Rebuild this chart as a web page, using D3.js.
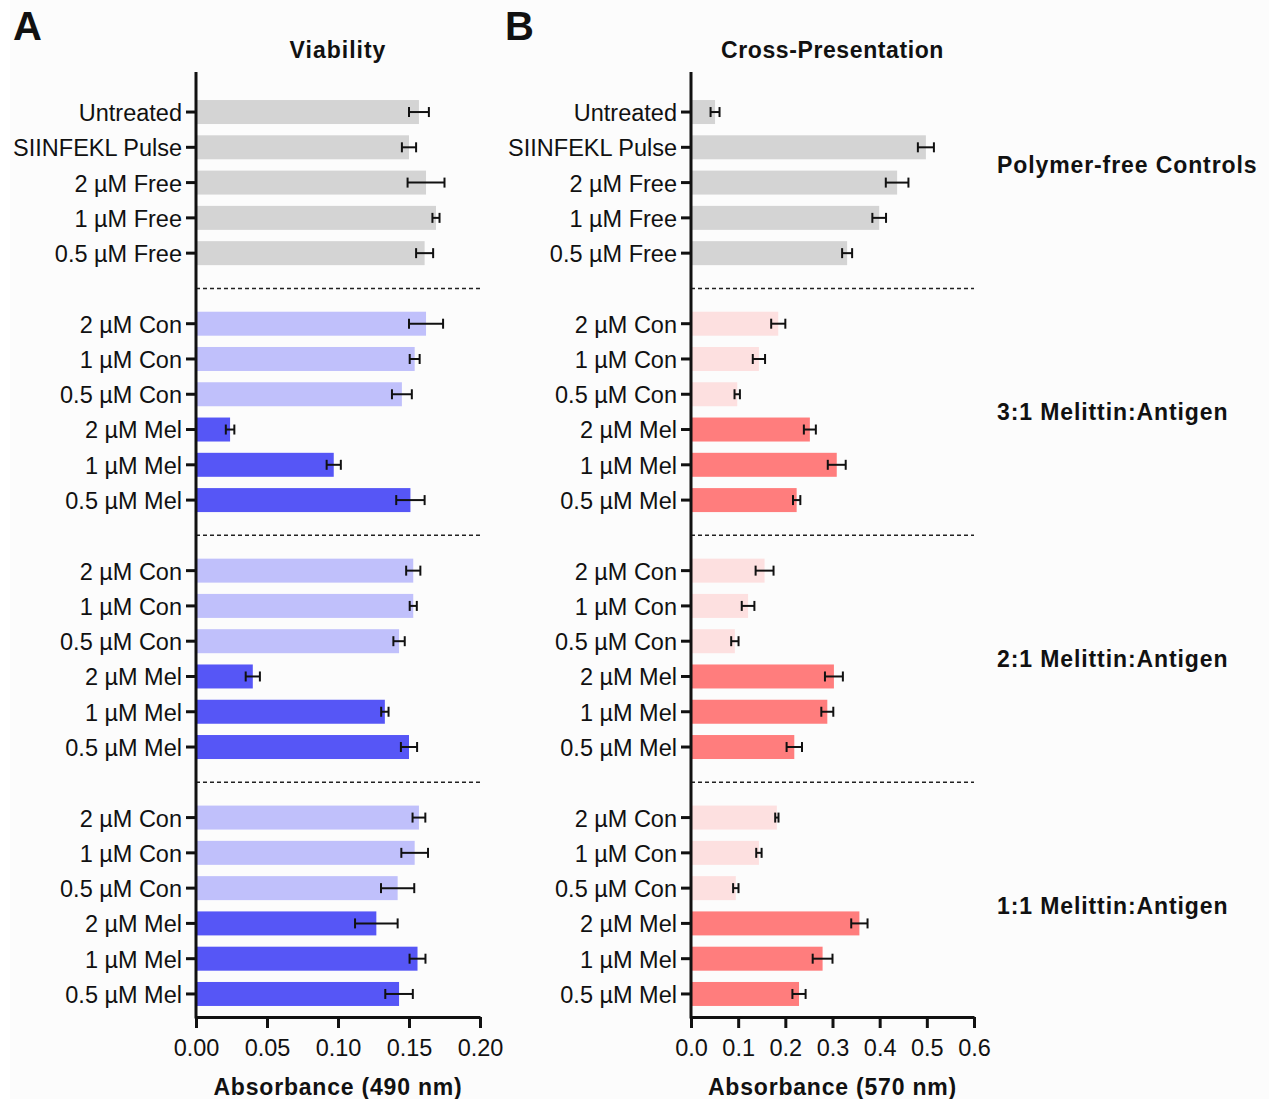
<!DOCTYPE html>
<meta charset="utf-8">
<title>Viability and cross-presentation</title>
<style>
  body { margin: 0; background: #fff; }
  svg { display: block; font-family: Arial, "Liberation Sans", Helvetica, sans-serif; }
  .tick text { font-size: 23.5px; fill: #111; }
  .bold { font-weight: bold; fill: #111; }
</style>
<body>
<script src="https://d3js.org/d3.v7.min.js"></script>
<script>
  // row labels, one block per group
  var controlLabels = ["Untreated", "SIINFEKL Pulse", "2 \u00b5M Free", "1 \u00b5M Free", "0.5 \u00b5M Free"];
  var ratioLabels = ["2 \u00b5M Con", "1 \u00b5M Con", "0.5 \u00b5M Con", "2 \u00b5M Mel", "1 \u00b5M Mel", "0.5 \u00b5M Mel"];
  var groupNames = ["Polymer-free Controls", "3:1 Melittin:Antigen", "2:1 Melittin:Antigen", "1:1 Melittin:Antigen"];

  // panel A - viability (absorbance 490 nm), mean and error
  var viabilityMean = [0.157, 0.150, 0.162, 0.169, 0.161,
                       0.162, 0.154, 0.145, 0.024, 0.097, 0.151,
                       0.153, 0.153, 0.143, 0.040, 0.133, 0.150,
                       0.157, 0.154, 0.142, 0.127, 0.156, 0.143];
  var viabilityErr  = [0.007, 0.005, 0.013, 0.0025, 0.006,
                       0.012, 0.0035, 0.007, 0.003, 0.005, 0.010,
                       0.005, 0.0025, 0.004, 0.005, 0.0026, 0.0057,
                       0.0045, 0.0094, 0.0117, 0.015, 0.0056, 0.0097];

  // panel B - cross-presentation (absorbance 570 nm)
  var crossMean = [0.051, 0.498, 0.437, 0.399, 0.331,
                   0.185, 0.144, 0.098, 0.252, 0.309, 0.224,
                   0.156, 0.121, 0.093, 0.303, 0.289, 0.219,
                   0.182, 0.144, 0.095, 0.357, 0.279, 0.229];
  var crossErr  = [0.0095, 0.017, 0.024, 0.0145, 0.0106,
                   0.015, 0.013, 0.0057, 0.0127, 0.019, 0.0078,
                   0.019, 0.0134, 0.0078, 0.019, 0.0127, 0.0163,
                   0.0035, 0.0057, 0.0057, 0.0173, 0.021, 0.014];

  var viabilityTicks = [0, 0.05, 0.10, 0.15, 0.20];
  var crossTicks = [0, 0.1, 0.2, 0.3, 0.4, 0.5, 0.6];

  // build the slot list: rows plus a dashed separator between groups
  var groups = [controlLabels, ratioLabels, ratioLabels, ratioLabels];
  var slots = [], rows = [];
  groups.forEach(function(labels, g) {
    if (g > 0) slots.push({id: "sep" + g, sep: true});
    labels.forEach(function(l) {
      var r = {id: "r" + rows.length, label: l, group: g, index: rows.length};
      slots.push(r); rows.push(r);
    });
  });

  var width = 1269, height = 1099;
  var svg = d3.select("body").append("svg")
      .attr("width", width)
      .attr("height", height);

  svg.append("rect").attr("x", 10).attr("y", 0)
      .attr("width", width - 10).attr("height", height)
      .attr("fill", "#fcfcfc");

  var y = d3.scaleBand()
      .domain(slots.map(function(d) { return d.id; }))
      .range([94.4, 1011.6])
      .paddingInner(0.32)
      .paddingOuter(0.16);
  var yTop = 72, yBottom = 1017;

  function colour(panel, r) {
    if (r.group === 0) return "#d4d4d4";
    var mel = r.label.indexOf("Mel") >= 0;
    if (panel === "A") return mel ? "#5656f6" : "#c0c0fb";
    return mel ? "#ff7d7d" : "#fde0e0";
  }

  function drawPanel(opt) {
    var x = d3.scaleLinear().domain(opt.domain).range(opt.range);
    var g = svg.append("g");

    // bars
    g.selectAll(".bar")
      .data(rows)
      .enter().append("rect")
      .attr("x", x(0))
      .attr("y", function(d) { return y(d.id); })
      .attr("height", y.bandwidth())
      .attr("width", function(d) { return x(opt.mean[d.index]) - x(0); })
      .attr("fill", function(d) { return colour(opt.panel, d); });

    // error bars
    var eb = g.selectAll(".err")
      .data(rows)
      .enter().append("g")
      .attr("stroke", "#111")
      .attr("stroke-width", 2);
    eb.append("line")
      .attr("x1", function(d) { return x(opt.mean[d.index] - opt.err[d.index]); })
      .attr("x2", function(d) { return x(opt.mean[d.index] + opt.err[d.index]); })
      .attr("y1", function(d) { return y(d.id) + y.bandwidth() / 2; })
      .attr("y2", function(d) { return y(d.id) + y.bandwidth() / 2; });
    [-1, 1].forEach(function(s) {
      eb.append("line")
        .attr("x1", function(d) { return x(opt.mean[d.index] + s * opt.err[d.index]); })
        .attr("x2", function(d) { return x(opt.mean[d.index] + s * opt.err[d.index]); })
        .attr("y1", function(d) { return y(d.id) + y.bandwidth() / 2 - 5; })
        .attr("y2", function(d) { return y(d.id) + y.bandwidth() / 2 + 5; });
    });

    // dashed separators
    g.selectAll(".sep")
      .data(slots.filter(function(d) { return d.sep; }))
      .enter().append("line")
      .attr("x1", x(0)).attr("x2", opt.range[1])
      .attr("y1", function(d) { return y(d.id) + y.bandwidth() / 2; })
      .attr("y2", function(d) { return y(d.id) + y.bandwidth() / 2; })
      .attr("stroke", "#222")
      .attr("stroke-width", 1.5)
      .attr("stroke-dasharray", "4,3");

    // y axis
    var yAxis = g.append("g")
      .attr("transform", "translate(" + x(0) + ",0)")
      .call(d3.axisLeft(y)
        .tickValues(rows.map(function(d) { return d.id; }))
        .tickFormat(function(id) { return rows[+id.slice(1)].label; })
        .tickSize(10)
        .tickPadding(4));
    yAxis.select(".domain").remove();
    yAxis.selectAll(".tick line").attr("stroke", "#111").attr("stroke-width", 3);
    yAxis.selectAll(".tick text").attr("dy", "0.38em");
    g.append("line")
      .attr("x1", x(0)).attr("x2", x(0))
      .attr("y1", yTop).attr("y2", yBottom + 1.5)
      .attr("stroke", "#111").attr("stroke-width", 3);

    // x axis
    var xAxis = g.append("g")
      .attr("transform", "translate(0," + yBottom + ")")
      .call(d3.axisBottom(x)
        .tickValues(opt.ticks)
        .tickFormat(d3.format(opt.fmt))
        .tickSize(11)
        .tickSizeOuter(0)
        .tickPadding(11));
    xAxis.select(".domain").attr("stroke", "#111").attr("stroke-width", 3);
    xAxis.selectAll(".tick line").attr("stroke", "#111").attr("stroke-width", 3);

    // titles
    var mid = (opt.range[0] + opt.range[1]) / 2;
    g.append("text").attr("class", "bold")
      .attr("x", mid).attr("y", 58)
      .attr("text-anchor", "middle")
      .style("font-size", "23px").style("letter-spacing", opt.titleSpacing)
      .text(opt.title);
    g.append("text").attr("class", "bold")
      .attr("x", mid).attr("y", 1095)
      .attr("text-anchor", "middle")
      .style("font-size", "23px").style("letter-spacing", "0.8px")
      .text(opt.xlabel);
    g.append("text").attr("class", "bold")
      .attr("x", opt.letterX).attr("y", 40)
      .style("font-size", "40px")
      .text(opt.panel);
  }

  drawPanel({panel: "A", title: "Viability", xlabel: "Absorbance (490 nm)",
             domain: [0, 0.2], range: [196, 480], ticks: viabilityTicks, fmt: ".2f",
             mean: viabilityMean, err: viabilityErr, letterX: 13, titleSpacing: "1px"});
  drawPanel({panel: "B", title: "Cross-Presentation", xlabel: "Absorbance (570 nm)",
             domain: [0, 0.6], range: [691, 974], ticks: crossTicks, fmt: ".1f",
             mean: crossMean, err: crossErr, letterX: 505, titleSpacing: "0.6px"});

  // group labels on the right
  svg.selectAll(".grp")
    .data(groupNames)
    .enter().append("text")
    .attr("class", "bold")
    .attr("x", 997)
    .attr("y", function(name, g) {
      var gr = rows.filter(function(r) { return r.group === g; });
      // the controls label sits between its 2nd and 3rd rows
      var a = g === 0 ? gr[1] : gr[0], b = g === 0 ? gr[2] : gr[gr.length - 1];
      return (y(a.id) + y(b.id)) / 2 + y.bandwidth() / 2 + 8;
    })
    .style("font-size", "23px")
    .style("letter-spacing", "0.9px")
    .text(function(d) { return d; });
</script>
